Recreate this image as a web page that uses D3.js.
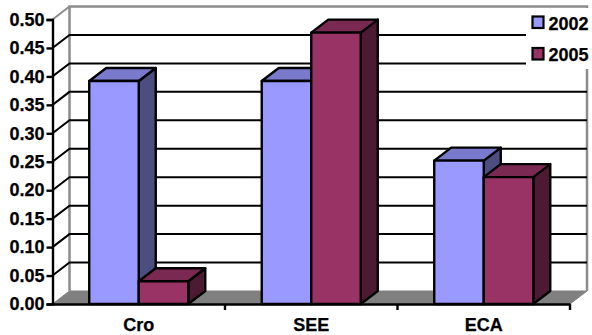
<!DOCTYPE html>
<html><head><meta charset="utf-8"><script src="https://cdn.jsdelivr.net/npm/d3@7/dist/d3.min.js"></script>
<style>html,body{margin:0;padding:0;background:#fff}svg{display:block}text{font-family:"Liberation Sans",Arial,sans-serif;font-weight:bold;fill:#000;stroke:#000;stroke-width:0.25px}</style></head>
<body><svg id="c" width="592" height="335"></svg>
<script>
const categories = ["Cro", "SEE", "ECA"];
const seriesNames = ["2002", "2005"];
const values2002 = [0.392, 0.392, 0.252];
const values2005 = [0.04, 0.477, 0.223];
const yTicks = [0, 0.05, 0.1, 0.15, 0.2, 0.25, 0.3, 0.35, 0.4, 0.45, 0.5];
const fills = ["#9999ff", "#993366"];
const tops = ["#7a7acc", "#7a2952"];
const sides = ["#4d4d80", "#4d1a33"];

const svg = d3.select("#c");
const dx = 17, dy = -13;
const x0 = d3.scaleBand().domain(categories).range([52.5, 570]);
const x1 = d3.scaleBand().domain(seriesNames).range([0, x0.bandwidth()]).paddingInner(0).paddingOuter(0.742);
const y = d3.scaleLinear().domain([0, 0.5]).range([304, 19.5]);
const line = d3.line();
const xL = 52.5, xR = 570, yB = y(0), yT = y(0.5);

// floor
svg.append("path").attr("d", line([[xL,yB],[xL+dx,yB+dy],[xR+dx,yB+dy],[xR,yB]])+"Z").attr("fill","#808080").attr("stroke","#808080");
// walls
svg.append("path").attr("d", line([[xL+dx,yB+dy],[xL+dx,yT+dy],[xR+dx,yT+dy],[xR+dx,yB+dy]])).attr("fill","none").attr("stroke","#8c8c8c").attr("stroke-width",2.5);
svg.append("path").attr("d", line([[xL,yT],[xL+dx,yT+dy]])).attr("fill","none").attr("stroke","#8c8c8c").attr("stroke-width",2);
// gridlines
yTicks.slice(1,-1).forEach(t => {
  svg.append("path").attr("d", line([[xL,y(t)],[xL+dx,y(t)+dy],[xR+dx,y(t)+dy]])).attr("fill","none").attr("stroke","#000").attr("stroke-width",2);
});
// legend background
svg.append("rect").attr("x",526).attr("y",8).attr("width",66).attr("height",61).attr("fill","#fff");

// bars
const rows = [values2002, values2005];
categories.forEach((c, ci) => {
  seriesNames.forEach((s, si) => {
    const v = rows[si][ci];
    const l = x0(c) + x1(s), r = l + x1.bandwidth(), t = y(v), b = y(0);
    const g = svg.append("g").attr("stroke","#000").attr("stroke-width",2.4).attr("stroke-linejoin","round");
    g.append("path").attr("d", line([[r,t],[r+dx,t+dy],[r+dx,b+dy],[r,b]])+"Z").attr("fill",sides[si]);
    g.append("path").attr("d", line([[l,t],[l+dx,t+dy],[r+dx,t+dy],[r,t]])+"Z").attr("fill",tops[si]);
    g.append("rect").attr("x",l).attr("y",t).attr("width",r-l).attr("height",b-t).attr("fill",fills[si]);
  });
});

// axes
const yAxis = d3.axisLeft(y).tickValues(yTicks).tickFormat(d3.format(".2f")).tickSize(6).tickPadding(2);
const gy = svg.append("g").attr("transform",`translate(${xL},0)`).call(yAxis);
gy.selectAll("path,line").attr("stroke","#000").attr("stroke-width",2.4);
gy.selectAll("text").style("font-size","18px").attr("font-family",null);
const xAxis = d3.axisBottom(x0).tickSize(0).tickPadding(14.5);
const gx = svg.append("g").attr("transform",`translate(0,${yB})`).call(xAxis);
gx.select("path").attr("stroke","#000").attr("stroke-width",2.4);
gx.selectAll("text").style("font-size","18px").attr("font-family",null);
[xL + x0.step(), xL + 2*x0.step(), xR].forEach(tx => {
  svg.append("line").attr("x1",tx).attr("x2",tx).attr("y1",yB).attr("y2",yB+6).attr("stroke","#000").attr("stroke-width",2.4);
});

// legend
seriesNames.forEach((s, i) => {
  const ly = 16.5 + i*31.5;
  svg.append("rect").attr("x",532.5).attr("y",ly).attr("width",11).attr("height",11.5).attr("fill",fills[i]).attr("stroke","#000").attr("stroke-width",2.2);
  svg.append("text").attr("x",548.5).attr("y",ly+13).style("font-size","18px").text(s);
});
</script></body></html>
